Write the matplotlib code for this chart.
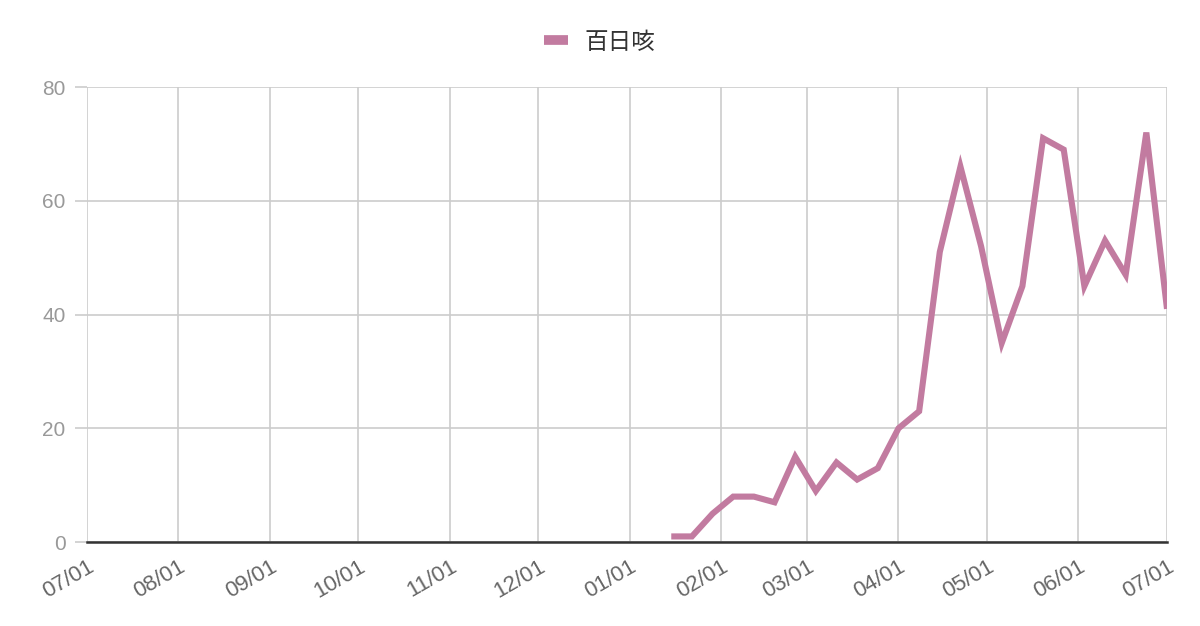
import matplotlib
matplotlib.use('Agg')
import matplotlib.pyplot as plt
import matplotlib.dates as mdates
import numpy as np
import pandas as pd

plt.rcParams['font.family'] = ['Liberation Sans', 'Noto Sans CJK JP', 'DejaVu Sans']

# weekly counts (Mondays)
dates = pd.date_range('2024-01-15', '2024-07-01', freq='7D')
cases = [1, 1, 5, 8, 8, 7, 15, 9, 14, 11, 13, 20, 23,
         51, 66, 52, 35, 45, 71, 69, 45, 53, 47, 72, 41]
series_name = '百日咳'
month_ticks = pd.date_range('2023-07-01', '2024-07-01', freq='MS')
y_ticks = [0, 20, 40, 60, 80]

line_color = '#c27ba0'
grid_color = '#cccccc'

fig = plt.figure(figsize=(12, 6.26), dpi=100)
ax = fig.add_axes([0.0725, 0.134, 0.9, 0.727])

ax.plot(dates, cases, color=line_color, lw=4.4, solid_joinstyle='miter',
        solid_capstyle='butt', label=series_name, zorder=3)

ax.set_xlim(pd.Timestamp('2023-07-01'), pd.Timestamp('2024-07-01'))
ax.set_ylim(0, 80)
ax.set_xticks(month_ticks)
ax.xaxis.set_major_formatter(mdates.DateFormatter('%m/%d'))
ax.set_yticks(y_ticks)

ax.grid(True, color=grid_color, lw=1.2, zorder=0)
ax.axhline(0, color='#333333', lw=1.8, zorder=2, clip_on=False)
for s in ax.spines.values():
    s.set_visible(False)

ax.tick_params(axis='y', length=8.5, width=1.2, color=grid_color,
               labelcolor='#999999', labelsize=15, pad=7)
ax.tick_params(axis='x', length=0, labelcolor='#666666', labelsize=16, pad=10)
for lab in ax.get_xticklabels():
    lab.set_rotation(30)
    lab.set_ha('right')
    lab.set_rotation_mode('anchor')

leg = fig.legend(loc='upper center', bbox_to_anchor=(0.5, 0.985), frameon=False,
                 fontsize=17, handlelength=1.0, handletextpad=0.7)
for h in leg.get_lines():
    h.set_linewidth(7)
for t in leg.get_texts():
    t.set_color('#333333')
    t.set_family(['Noto Sans CJK JP', 'DejaVu Sans'])

fig.savefig('out.png', dpi=100)
